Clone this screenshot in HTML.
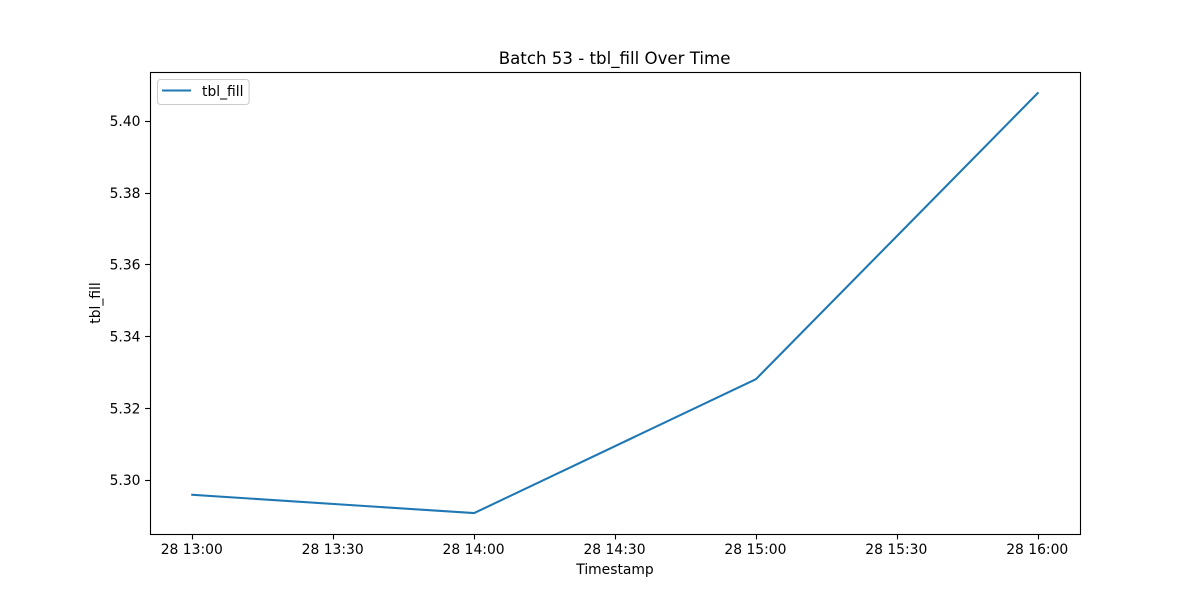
<!DOCTYPE html>
<html>
<head>
<meta charset="utf-8">
<style>
html,body{margin:0;padding:0;background:#fff;width:1200px;height:600px;overflow:hidden}
svg{display:block}
text{font-family:"DejaVu Sans","Liberation Sans",sans-serif;fill:#000}
</style>
</head>
<body>
<svg id="chart" width="1200" height="600" viewBox="0 0 1200 600" xmlns="http://www.w3.org/2000/svg">
<rect x="0" y="0" width="1200" height="600" fill="#ffffff"/>
<text x="614.6" y="64" font-size="16.64" text-anchor="middle">Batch 53 - tbl_fill Over Time</text>
<g id="y-ticks"></g>
<g id="x-ticks"></g>
<polyline id="series" fill="none" stroke="#1f77b4" stroke-width="2.08" stroke-linecap="square" stroke-linejoin="round"/>
<rect x="150.5" y="72.5" width="930" height="462" fill="none" stroke="#000" stroke-width="1.11"/>
<text x="615" y="574" font-size="13.89" text-anchor="middle">Timestamp</text>
<text x="0" y="0" font-size="13.89" text-anchor="middle" transform="translate(100 303) rotate(-90)">tbl_fill</text>
<g>
<rect x="157.5" y="79.5" width="91.6" height="25" rx="3" ry="3" fill="#fff" fill-opacity="0.8" stroke="#ccc" stroke-width="1.11"/>
<line x1="162" y1="90.5" x2="191" y2="90.5" stroke="#1f77b4" stroke-width="2.08"/>
<text x="202" y="96" font-size="13.89">tbl_fill</text>
</g>
</svg>
<script>
const timeMinutes = [780, 840, 900, 960];
const seriesValues = [5.2958, 5.2907, 5.328, 5.4077];
const xTickMinutes = [780, 810, 840, 870, 900, 930, 960];
const xTickLabels = ['28 13:00', '28 13:30', '28 14:00', '28 14:30', '28 15:00', '28 15:30', '28 16:00'];
const yTickValues = [5.30, 5.32, 5.34, 5.36, 5.38, 5.40];
const yTickLabels = ['5.30', '5.32', '5.34', '5.36', '5.38', '5.40'];

const NS = 'http://www.w3.org/2000/svg';
const axLeft = 150, axRight = 1080, axTop = 72, axBottom = 534;
const xMinData = Math.min(...timeMinutes), xMaxData = Math.max(...timeMinutes);
const xPad = (xMaxData - xMinData) * 0.05;
const xScale = v => axLeft + (v - (xMinData - xPad)) / ((xMaxData + 2 * xPad - xMinData) ) * (axRight - axLeft);
const yMinData = Math.min(...seriesValues), yMaxData = Math.max(...seriesValues);
const yPad = (yMaxData - yMinData) * 0.05;
const yScale = v => axBottom + 0.1 - (v - (yMinData - yPad)) / (yMaxData - yMinData + 2 * yPad) * (axBottom - axTop);

function make(tag, attrs, parent) {
  const el = document.createElementNS(NS, tag);
  Object.keys(attrs).forEach(k => el.setAttribute(k, attrs[k]));
  parent.appendChild(el);
  return el;
}

const xGroup = document.getElementById('x-ticks');
xTickMinutes.forEach((m, i) => {
  const x = Math.round(xScale(m)) + 0.5;
  const tick = make('line', {x1: x, x2: x, y1: 534.5, y2: 539.4, stroke: '#000', 'stroke-width': 1.11}, xGroup);
  
  
  const label = make('text', {x: xScale(m) - 0.5, y: 554, 'font-size': 13.89, 'text-anchor': 'middle'}, xGroup);
  
  
  label.textContent = xTickLabels[i];
});

const yGroup = document.getElementById('y-ticks');
yTickValues.forEach((v, i) => {
  const y = Math.round(yScale(v)) + 0.5;
  const tick = make('line', {x1: 145.1, x2: 150, y1: y, y2: y, stroke: '#000', 'stroke-width': 1.11}, yGroup);
  
  
  const label = make('text', {x: 140.5, y: yScale(v) + 5.4, 'font-size': 13.89, 'text-anchor': 'end'}, yGroup);
  
  
  label.textContent = yTickLabels[i];
});

document.getElementById('series').setAttribute('points',
  timeMinutes.map((m, i) => xScale(m).toFixed(2) + ',' + yScale(seriesValues[i]).toFixed(2)).join(' '));
</script>
</body>
</html>
